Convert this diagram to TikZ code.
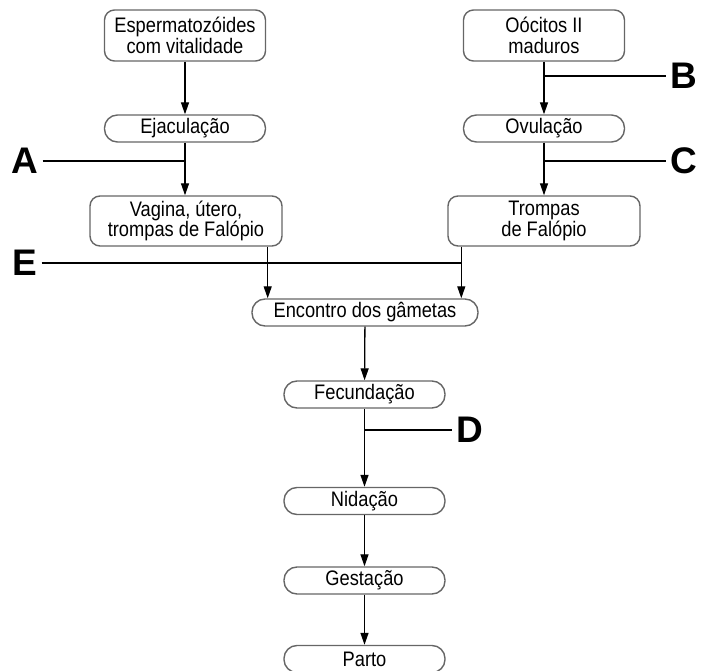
\documentclass[tikz,border=0pt]{standalone}
\usepackage{fontspec}
\setmainfont{Liberation Sans}
\newfontfamily\boxfont{Liberation Sans}[FakeStretch=0.87]
\usetikzlibrary{arrows.meta}

\begin{document}
\begin{tikzpicture}
[
	x=1pt, y=-1pt,
	>={Triangle[length=12pt,width=8pt]},
	stage/.style={draw=black!60,line width=1.4pt,rounded corners=13pt,inner sep=0pt,minimum width=161pt,minimum height=27pt,font=\boxfont\fontsize{21}{20.5}\selectfont,align=center},
	place/.style={stage,rounded corners=10pt,minimum width=192pt,minimum height=50pt},
	letter/.style={font=\fontsize{37}{37}\selectfont\bfseries,inner sep=4pt},
	flow/.style={line width=1.3pt,->},
	tag/.style={line width=1.3pt}
]

	\useasboundingbox (0,0) rectangle (716,671);

	% left column
	\node[place,minimum width=161pt,minimum height=51pt] at (185,35.5) (esp) {Espermatoz\'oides\\com vitalidade};
	\node[stage] at (185,128.5) (eja) {Ejacula\c{c}\~ao};
	\node[place] at (186,221) (vag) {Vagina, \'utero,\\trompas de Fal\'opio};

	% right column
	\node[place,minimum width=161pt,minimum height=51pt] at (544,35.5) (ooc) {O\'ocitos II\\maduros};
	\node[stage] at (544,128.5) (ovu) {Ovula\c{c}\~ao};
	\node[place] at (544,221) (tro) {Trompas\\de Fal\'opio};

	% middle column
	\node[stage,minimum width=226pt] at (365,312.5) (enc) {Encontro dos g\^ametas};
	\node[stage] at (364.5,394.5) (fec) {Fecunda\c{c}\~ao};
	\node[stage] at (364.5,501) (nid) {Nida\c{c}\~ao};
	\node[stage] at (364.5,580.5) (ges) {Gesta\c{c}\~ao};
	\node[stage] at (364.5,659) (par) {Parto};

	\coordinate (vagout) at ([xshift=-15pt]vag.south east);
	\coordinate (troout) at ([xshift=14pt]tro.south west);

	\draw[flow] (esp) -- (eja);
	\draw[flow] (eja.south) -- (eja.south |- vag.north);
	\draw[flow] (ooc) -- (ovu);
	\draw[flow] (ovu) -- (tro);
	\draw[flow] (vagout) -- (vagout |- enc.north);
	\draw[flow] (troout) -- (troout |- enc.north);
	\draw[flow] (enc) -- (fec);
	\draw[flow] (fec) -- (nid);
	\draw[flow] (nid) -- (ges);
	\draw[flow] (ges) -- (par);

	% letters
	\node[letter] at (25,161) (A) {A};
	\node[letter] at (684,76) (B) {B};
	\node[letter] at (684,161) (C) {C};
	\node[letter] at (470,430) (D) {D};
	\node[letter] at (25,263) (E) {E};

	\coordinate (a) at (eja.south |- A);
	\coordinate (b) at (ooc.south |- B);
	\coordinate (c) at (ovu.south |- C);
	\coordinate (d) at (fec.south |- D);
	\coordinate (e) at (troout |- E);

	\draw[tag] (A) -- (a);
	\draw[tag] (b) -- (B);
	\draw[tag] (c) -- (C);
	\draw[tag] (d) -- (D);
	\draw[tag] (E) -- (e);

\end{tikzpicture}
\end{document}
